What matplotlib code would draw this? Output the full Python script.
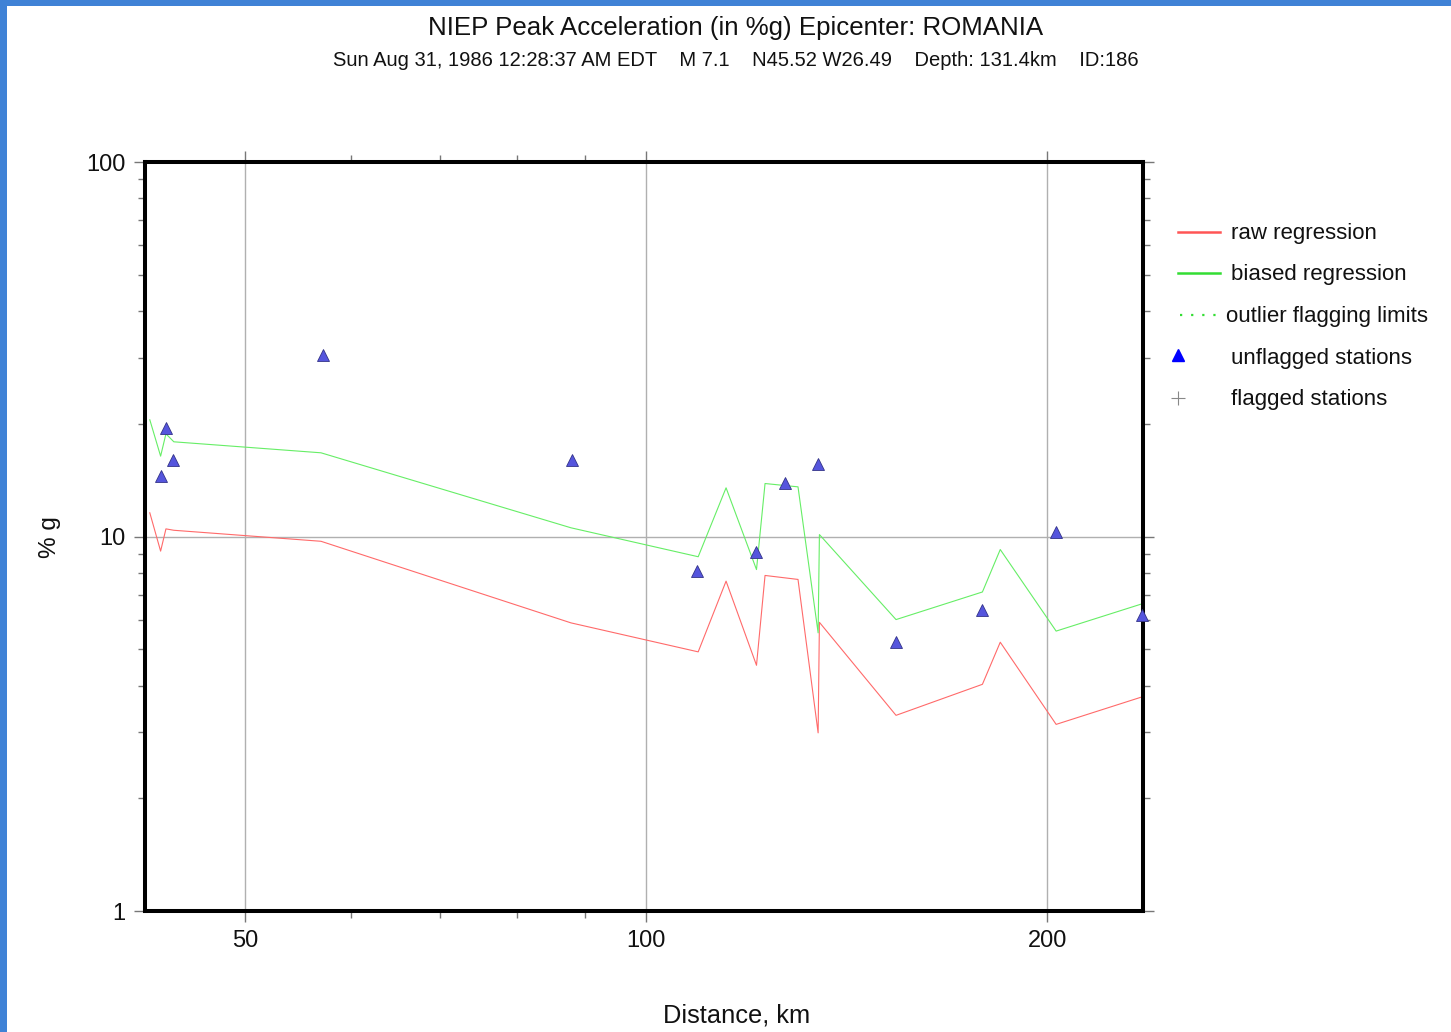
import matplotlib
matplotlib.use("Agg")
import matplotlib.pyplot as plt
from matplotlib.lines import Line2D
from matplotlib.patches import Rectangle
from matplotlib.ticker import FixedLocator, NullFormatter

plt.rcParams['font.family'] = ['Liberation Sans', 'DejaVu Sans']

# Regression curves evaluated along distance (km), in %g
curve_dist = [42.4, 43.2, 43.6, 44.2, 57.0, 87.8, 109.4, 114.8, 121.0, 122.8,
              130.0, 134.6, 134.9, 154.0, 178.8, 184.4, 203.1, 235.6]
raw_regression = [11.57, 9.14, 10.48, 10.39, 9.71, 5.88, 4.92, 7.60, 4.53, 7.87,
                  7.68, 2.99, 5.90, 3.33, 4.03, 5.22, 3.15, 3.73]
biased_regression = [20.5, 16.39, 18.80, 17.90, 16.73, 10.55, 8.83, 13.49, 8.16, 13.85,
                     13.57, 5.53, 10.12, 6.00, 7.11, 9.23, 5.59, 6.61]

# Station observations
station_dist = [43.2, 43.6, 44.1, 57.2, 87.9, 109.2, 121.0, 127.1, 134.6, 154.0,
                178.8, 202.9, 235.6]
station_pga = [14.49, 19.51, 15.96, 30.6, 15.96, 8.11, 9.08, 13.91, 15.66, 5.22,
               6.36, 10.27, 6.16]

x_ticks = [50, 100, 200]
x_minor = [60, 70, 80, 90]
y_ticks = [1, 10, 100]
y_minor = [2, 3, 4, 5, 6, 7, 8, 9, 20, 30, 40, 50, 60, 70, 80, 90]

title = "NIEP Peak Acceleration (in %g) Epicenter: ROMANIA"
subtitle = "Sun Aug 31, 1986 12:28:37 AM EDT    M 7.1    N45.52 W26.49    Depth: 131.4km    ID:186"

W, H = 1451, 1032
fig = plt.figure(figsize=(W / 100, H / 100), dpi=100)
fig.patch.set_facecolor('white')

# window frame strips
fig.patches.append(Rectangle((0, 1 - 6 / H), 1, 6 / H, transform=fig.transFigure,
                             facecolor='#3f82d6', edgecolor='none', zorder=0))
fig.patches.append(Rectangle((0, 0), 7 / W, 1, transform=fig.transFigure,
                             facecolor='#3f82d6', edgecolor='none', zorder=0))

ax = fig.add_axes([145 / W, (H - 911) / H, 998 / W, 749 / H])
ax.set_xscale('log')
ax.set_yscale('log')
ax.set_xlim(42.05, 236.0)
ax.set_ylim(1, 100)

ax.xaxis.set_major_locator(FixedLocator(x_ticks))
ax.xaxis.set_minor_locator(FixedLocator(x_minor))
ax.yaxis.set_major_locator(FixedLocator(y_ticks))
ax.yaxis.set_minor_locator(FixedLocator(y_minor))
ax.set_xticklabels([str(t) for t in x_ticks])
ax.set_yticklabels([str(t) for t in y_ticks])
ax.xaxis.set_minor_formatter(NullFormatter())
ax.yaxis.set_minor_formatter(NullFormatter())

ax.tick_params(which='major', direction='out', length=8, width=1, color='#777777',
               labelsize=17, top=True, right=True, pad=6, labelcolor='#111111')
ax.tick_params(which='minor', direction='out', length=5, width=1, color='#777777',
               top=True, right=True)

ax.grid(True, which='major', color='#b0b0b0', linewidth=1.0)
for s in ax.spines.values():
    s.set_linewidth(2.9)
    s.set_color('black')
    s.set_zorder(5)

ax.plot(curve_dist, raw_regression, color='#ff6a6a', linewidth=0.8, zorder=3)
ax.plot(curve_dist, biased_regression, color='#66ee66', linewidth=0.8, zorder=3)
ax.plot(station_dist, station_pga, linestyle='none', marker='^', markersize=8,
        markerfacecolor='#5555dd', markeredgecolor='#333388', markeredgewidth=0.6,
        zorder=6, clip_on=False)

fig.text(737 / W, 1 - 1015 / H, "Distance, km", ha='center', va='center',
         fontsize=18.3, color='#111111')
fig.text(50 / W, 1 - 537 / H, "% g", ha='center', va='center', rotation=90,
         fontsize=17.5, color='#111111')

fig.text(736 / W, 1 - 28 / H, title, ha='center', va='center', fontsize=18.6, color='#111111')
fig.text(736 / W, 1 - 61 / H, subtitle, ha='center', va='center', fontsize=14.5, color='#111111')

# legend drawn in figure pixels
def fx(px):
    return px / W

def fy(py):
    return 1 - py / H

entries = [
    (232, 'raw regression', 'line', '#ff5555'),
    (273, 'biased regression', 'line', '#33dd33'),
    (315, 'outlier flagging limits', 'dots', '#33dd33'),
    (357, 'unflagged stations', 'tri', '#0000ff'),
    (398, 'flagged stations', 'plus', '#888888'),
]
for py, label, kind, col in entries:
    tx = 1231
    if kind == 'line':
        fig.add_artist(Line2D([fx(1178), fx(1220)], [fy(py), fy(py)], color=col,
                              linewidth=1.8, transform=fig.transFigure))
    elif kind == 'dots':
        fig.add_artist(Line2D([fx(1180), fx(1222)], [fy(py), fy(py)], color=col,
                              linewidth=1.6, linestyle=(0, (1, 4)), transform=fig.transFigure))
        tx = 1226
    elif kind == 'tri':
        fig.add_artist(Line2D([fx(1178)], [fy(py - 2)], color=col, marker='^', markersize=8,
                              linestyle='none', transform=fig.transFigure))
    else:
        fig.add_artist(Line2D([fx(1178)], [fy(py)], color=col, marker='+', markersize=10,
                              markeredgewidth=0.8, linestyle='none', transform=fig.transFigure))
    fig.text(fx(tx), fy(py + 1.5), label, ha='left', va='center', fontsize=16, color='#111111')

fig.savefig('out.png', dpi=100, facecolor='white')
